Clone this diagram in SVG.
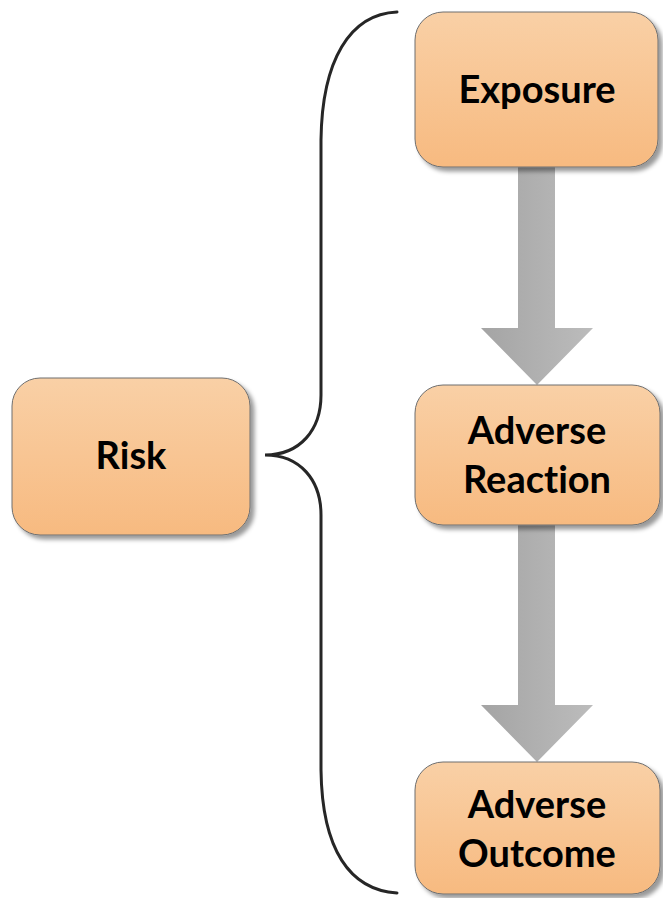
<svg xmlns="http://www.w3.org/2000/svg" width="663" height="898" viewBox="0 0 663 898">
  <defs>
    <linearGradient id="boxFill" x1="0" y1="0" x2="0" y2="1">
      <stop offset="0" stop-color="#f9d0a6"/>
      <stop offset="1" stop-color="#f7ba80"/>
    </linearGradient>
    <linearGradient id="arrowFill" x1="0" y1="0" x2="1" y2="0">
      <stop offset="0" stop-color="#a4a4a4"/>
      <stop offset="1" stop-color="#bcbcbc"/>
    </linearGradient>
    <filter id="shadow" x="-10%" y="-10%" width="125%" height="125%">
      <feGaussianBlur in="SourceAlpha" stdDeviation="2"/>
      <feOffset dx="4" dy="4" result="b"/>
      <feFlood flood-color="#000" flood-opacity="0.4"/>
      <feComposite in2="b" operator="in"/>
      <feMerge><feMergeNode/><feMergeNode in="SourceGraphic"/></feMerge>
    </filter>
  </defs>
  <style>
    .box { fill: url(#boxFill); stroke: #6e6e6e; stroke-width: 1; filter: url(#shadow); }
    .label { font-family: Lato, "Open Sans", "Liberation Sans", sans-serif; font-weight: bold; font-size: 38px; fill: #000; text-anchor: middle; font-variant-ligatures: none; }
    .arrow { fill: url(#arrowFill); }
    .brace { fill: none; stroke: #262626; stroke-width: 3; stroke-linecap: round; }
  </style>

  <g id="connectors">
    <path class="brace" d="M397,12 C350,14 322,60 321,140 L321,395 C321,430 300,455 265,455 C300,455 321,480 321,515 L321,770 C322,850 350,890 397,893"/>
    <polygon class="arrow" points="518,167 555,167 555,328 593,328 537,385 481,328 518,328"/>
    <polygon class="arrow" points="518,525 555,525 555,705 593,705 537,762 481,705 518,705"/>
  </g>

  <g id="risk">
    <rect class="box" x="12" y="378" width="238" height="157" rx="28"/>
    <text class="label" x="131" y="469">Risk</text>
  </g>

  <g id="exposure">
    <rect class="box" x="415" y="12" width="243" height="155" rx="28"/>
    <text class="label" x="537" y="103">Exposure</text>
  </g>

  <g id="adverse-reaction">
    <rect class="box" x="415" y="385" width="245" height="140" rx="28"/>
    <text class="label" x="537" y="444">Adverse</text>
    <text class="label" x="537" y="493">Reaction</text>
  </g>

  <g id="adverse-outcome">
    <rect class="box" x="415" y="762" width="245" height="132" rx="28"/>
    <text class="label" x="537" y="818">Adverse</text>
    <text class="label" x="537" y="867">Outcome</text>
  </g>
</svg>
